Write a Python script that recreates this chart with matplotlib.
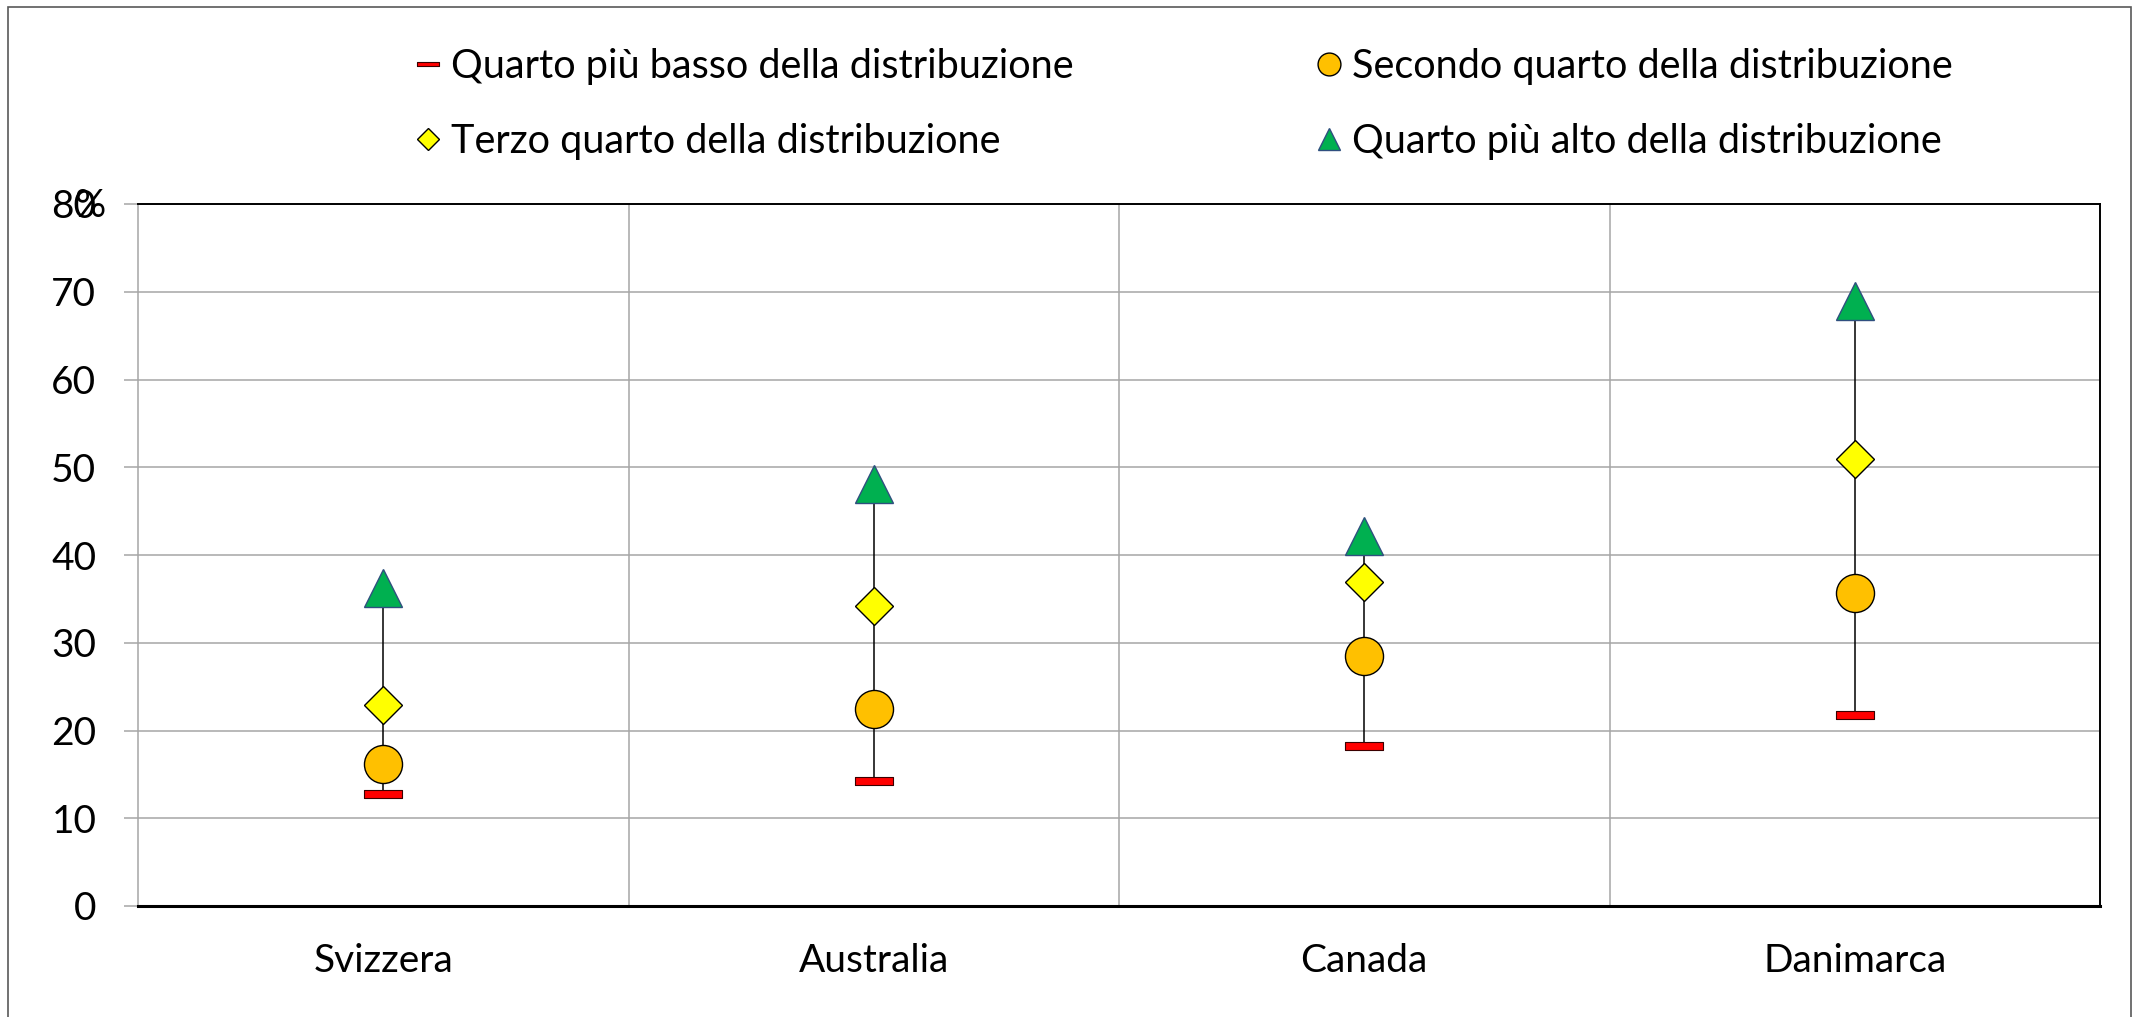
import numpy as np
import matplotlib
matplotlib.use("Agg")
import matplotlib.pyplot as plt
from matplotlib.patches import Rectangle

plt.rcParams["font.family"] = ["Lato", "DejaVu Sans"]

countries = ["Svizzera", "Australia", "Canada", "Danimarca"]
q_low = [12.8, 14.3, 18.2, 21.8]
q_second = [16.2, 22.5, 28.5, 35.7]
q_third = [22.9, 34.2, 36.9, 50.9]
q_top = [36.2, 48.1, 42.2, 69.0]

labels = [
    "Quarto più basso della distribuzione",
    "Secondo quarto della distribuzione",
    "Terzo quarto della distribuzione",
    "Quarto più alto della distribuzione",
]
y_ticks = [0, 10, 20, 30, 40, 50, 60, 70, 80]

W, H = 2136, 1017
FS = 28
fig = plt.figure(figsize=(W / 100, H / 100), dpi=100)
ax = fig.add_axes([138 / W, 1 - 906 / H, (2100 - 138) / W, (906 - 204) / H])

x = np.arange(len(countries))

# flat bar marker for the lowest quarter
bar_marker = [(-1, -0.21), (1, -0.21), (1, 0.21), (-1, 0.21), (-1, -0.21)]

ax.vlines(x, q_low, q_top, color="black", lw=1.1, zorder=2)
styles = [
    dict(marker=bar_marker, ms=27.4, mfc="#FF0000", mec="#3a0000", mew=0.8),
    dict(marker="o", ms=27.4, mfc="#FFC000", mec="black", mew=1.0),
    dict(marker="D", ms=19.5, mfc="#FFFF00", mec="black", mew=1.0),
    dict(marker="^", ms=27.4, mfc="#00B050", mec="#2F4F7F", mew=1.0),
]
series = [q_low, q_second, q_third, q_top]
handles = []
for vals, st, lab in zip(series, styles, labels):
    h, = ax.plot(x, vals, ls="none", zorder=3, label=lab, **st)
    handles.append(h)

ax.set_xlim(-0.5, len(countries) - 0.5)
ax.set_ylim(0, 80)
ax.set_yticks(y_ticks)
ax.set_xticks(x)
ax.set_xticklabels(countries)
ax.set_xticks(np.arange(0.5, len(countries) - 0.5, 1), minor=True)

ax.grid(axis="y", which="major", color="#a6a6a6", lw=1.1)
ax.grid(axis="x", which="minor", color="#a6a6a6", lw=1.1)
ax.set_axisbelow(True)

ax.tick_params(axis="y", length=10, width=1.1, color="#a6a6a6", pad=20, labelsize=FS)
ax.tick_params(axis="x", which="both", length=0, pad=27, labelsize=FS)

for side in ["top", "right"]:
    ax.spines[side].set_color("black")
    ax.spines[side].set_linewidth(1.4)
ax.spines["bottom"].set_color("black")
ax.spines["bottom"].set_linewidth(2.2)
ax.spines["left"].set_color("#a6a6a6")
ax.spines["left"].set_linewidth(1.1)

fig.text(90 / W, 1 - 206 / H, "%", ha="center", va="center", fontsize=FS)

# legend: two columns, rows filled left to right
leg_kw = dict(frameon=False, fontsize=28.5, markerscale=0.6, handlelength=1.0,
              handletextpad=0.08, borderpad=0, borderaxespad=0, labelspacing=0.95,
              loc="center left")
fig.legend([handles[0], handles[2]], [labels[0], labels[2]],
           bbox_to_anchor=(408 / W, 1 - 104 / H), **leg_kw)
fig.legend([handles[1], handles[3]], [labels[1], labels[3]],
           bbox_to_anchor=(1309 / W, 1 - 104 / H), **leg_kw)

# outer chart border
fig.patches.append(Rectangle((8 / W, -0.05), (2131 - 8) / W, 1.05 - 7 / H,
                             transform=fig.transFigure, fill=False,
                             ec="#595959", lw=1.2))

fig.savefig("out.png", dpi=100)
